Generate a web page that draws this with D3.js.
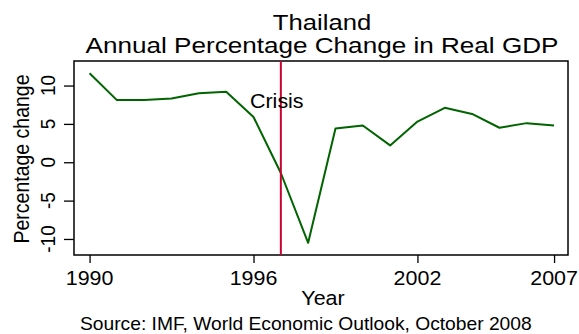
<!DOCTYPE html>
<html>
<head>
<meta charset="utf-8">
<script src="https://cdn.jsdelivr.net/npm/d3@7"></script>
<style>
  html, body { margin: 0; padding: 0; background: #fff; }
  svg { display: block; }
  text { font-family: "Liberation Sans", Arial, sans-serif; fill: #000; }
</style>
</head>
<body>
<svg id="chart" width="579" height="334"></svg>
<script>
const years = [1990,1991,1992,1993,1994,1995,1996,1997,1998,1999,2000,2001,2002,2003,2004,2005,2006,2007];
const gdpChange = [11.6,8.1,8.1,8.3,9.0,9.2,5.9,-1.4,-10.5,4.4,4.8,2.2,5.3,7.1,6.3,4.5,5.1,4.8];
const xTicks = [1990,1996,2002,2007];
const yTicks = [-10,-5,0,5,10];
const crisisYear = 1997;
const crisisLabel = "Crisis";
const titleLines = ["Thailand", "Annual Percentage Change in Real GDP"];
const xTitle = "Year";
const yTitle = "Percentage change";
const sourceNote = "Source: IMF, World Economic Outlook, October 2008";

const svg = d3.select("#chart");
const L = 74, R = 568, T = 61, B = 255;
const SX = 1.1; // horizontal stretch of text

const x = d3.scaleLinear().domain([1989.43, 2007.51]).range([L, R]);
const y = d3.scaleLinear().domain([-12.09, 13.2]).range([B, T]);

function htext(px, py, str, size, anchor, sx) {
  return svg.append("text")
    .attr("transform", `translate(${px},${py}) scale(${sx || SX},1)`)
    .attr("text-anchor", anchor || "middle")
    .style("font-size", size + "px")
    .text(str);
}

// Titles
htext(322, 30, titleLines[0], 22.5, "middle", 1.14);
htext(322, 53, titleLines[1], 22.5, "middle", 1.16);

// Frame
svg.append("rect").attr("x", L).attr("y", T).attr("width", R - L).attr("height", B - T)
  .attr("fill", "none").attr("stroke", "#000").attr("stroke-width", 1.5);

// X axis
const xAxis = svg.append("g").attr("transform", `translate(0,${B})`)
  .call(d3.axisBottom(x).tickValues(xTicks).tickFormat(d3.format("d")).tickSize(8).tickSizeOuter(0));
xAxis.select(".domain").remove();
xAxis.selectAll(".tick line").attr("stroke", "#000").attr("stroke-width", 1.3);
xAxis.selectAll(".tick text").remove();
xTicks.forEach(t => htext(x(t), 285, String(t), 19.5));

// Y axis
const yAxis = svg.append("g").attr("transform", `translate(${L},0)`)
  .call(d3.axisLeft(y).tickValues(yTicks).tickSize(10).tickSizeOuter(0));
yAxis.select(".domain").remove();
yAxis.selectAll(".tick line").attr("stroke", "#000").attr("stroke-width", 1.3);
yAxis.selectAll(".tick text").remove();
yTicks.forEach(t => {
  svg.append("text")
    .attr("transform", `translate(55,${y(t)}) scale(${SX},1) rotate(-90)`)
    .attr("text-anchor", "middle")
    .style("font-size", "19px")
    .text(String(t));
});

// Axis titles
htext(323, 305, xTitle, 19.5);
svg.append("text")
  .attr("transform", `translate(29,${(T + B) / 2 + 1}) scale(${SX},1) rotate(-90)`)
  .attr("text-anchor", "middle")
  .style("font-size", "19.5px")
  .text(yTitle);

// Series line
const line = d3.line().x((d, i) => x(years[i])).y(d => y(d));
svg.append("path").datum(gdpChange)
  .attr("d", line).attr("fill", "none")
  .attr("stroke", "#006400").attr("stroke-width", 2).attr("stroke-linejoin", "round");

// Crisis line
svg.append("line")
  .attr("x1", x(crisisYear)).attr("x2", x(crisisYear))
  .attr("y1", T).attr("y2", B)
  .attr("stroke", "#cc0033").attr("stroke-width", 2);
htext(250, 108, crisisLabel, 19.5, "start");

// Source note
htext(80, 330, sourceNote, 17.5, "start");
</script>
</body>
</html>
